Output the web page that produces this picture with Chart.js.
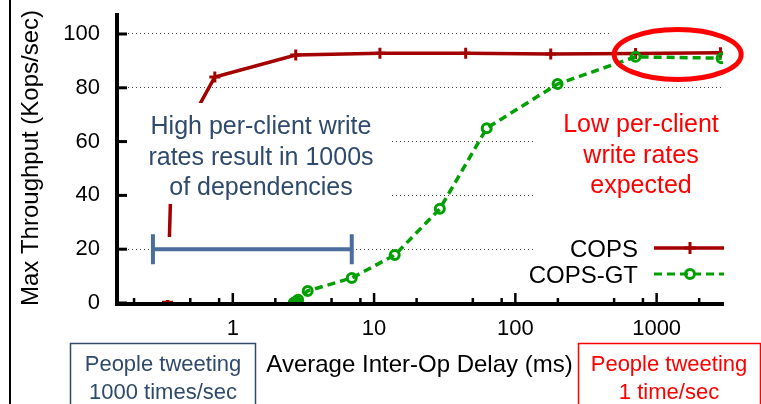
<!DOCTYPE html>
<html><head><meta charset="utf-8">
<script src="https://cdn.jsdelivr.net/npm/chart.js@4.4.1/dist/chart.umd.min.js"></script>
<style>html,body{margin:0;padding:0;background:#fff;overflow:hidden}canvas{display:block}</style>
</head><body>
<canvas id="c" width="761" height="404"></canvas>
<script>
// ---- data ----
const copsDelay = [0.345, 0.37, 0.746, 2.79, 11.0, 44.5, 178, 710, 2830];
const copsThroughput = [0.3, 55, 84, 92.2, 92.8, 92.8, 92.6, 92.7, 93.0];
const gtDelay = [2.7, 2.8, 2.9, 3.39, 6.95, 14.0, 29.2, 62.7, 199, 710, 2884];
const gtThroughput = [0.1, 0.6, 1.2, 4.5, 9.3, 17.8, 35, 65, 81.4, 91.5, 91.0];
const xTickValues = [1, 10, 100, 1000];
const xTickLabels = ['1', '10', '100', '1000'];
const xMinorTicks = [0.2, 0.5, 0.8, 2, 5, 8, 20, 50, 80, 200, 500, 800, 2000];
const yTickValues = [0, 20, 40, 60, 80, 100];
const yTickLabels = ['0', '20', '40', '60', '80', '100'];
const errorBarRange = [0.272, 6.95];
const errorBarLevel = 20;
const highlightCenter = [1409, 92.4];

const FONT = '"Liberation Sans", Arial, Helvetica, sans-serif';
const RED = '#a30000', GREEN = '#00a000', SLATE = '#2f4a6d', STEEL = '#4a6d9c', BRIGHT = '#ff0000';
Chart.defaults.font.family = FONT;

function lines(ctx, arr, x, y0, dy, color, size, align) {
  ctx.fillStyle = color; ctx.font = size + 'px ' + FONT;
  ctx.textAlign = align || 'center'; ctx.textBaseline = 'alphabetic';
  arr.forEach((t, i) => ctx.fillText(t, x, y0 + i * dy));
}
function cross(ctx, x, y, r, color, w) {
  ctx.strokeStyle = color; ctx.lineWidth = w;
  ctx.beginPath(); ctx.moveTo(x - r, y); ctx.lineTo(x + r, y); ctx.moveTo(x, y - r); ctx.lineTo(x, y + r); ctx.stroke();
}

const overlay = {
  id: 'overlay',
  beforeDatasetsDraw(chart) {
    const {ctx, scales: {x, y}} = chart;
    const cx = x.getPixelForValue(highlightCenter[0]), cy = y.getPixelForValue(highlightCenter[1]);
    ctx.save();
    ctx.fillStyle = '#fff';
    ctx.beginPath(); ctx.ellipse(cx, cy, 63.5, 25, 0, 0, Math.PI * 2); ctx.fill();
    ctx.fillRect(cx - 66, y.getPixelForValue(100) - 4, 120, 8);
    ctx.restore();
  },
  afterDatasetDraw(chart, args) {
    if (args.index !== 0) return;
    const {ctx, chartArea: a, scales: {x, y}} = chart;
    ctx.save();
    ctx.fillStyle = '#fff';
    ctx.fillRect(a.left + 2, 103, 390 - a.left - 2, 101);
    ctx.fillRect(150, 237, 140, 63);
    ctx.fillRect(533, 108, a.right - 533 + 2, 177);
    lines(ctx, ['High per-client write', 'rates result in 1000s', 'of dependencies'], 261, 134, 30.5, SLATE, 25);
    lines(ctx, ['Low per-client', 'write rates', 'expected'], 641, 132, 30.5, BRIGHT, 25);
    // error bar
    const x1 = x.getPixelForValue(errorBarRange[0]), x2 = x.getPixelForValue(errorBarRange[1]);
    const yy = y.getPixelForValue(errorBarLevel);
    ctx.strokeStyle = STEEL; ctx.lineWidth = 4; ctx.lineCap = 'butt';
    ctx.beginPath();
    ctx.moveTo(x1, yy); ctx.lineTo(x2, yy);
    ctx.moveTo(x1, yy - 15); ctx.lineTo(x1, yy + 15);
    ctx.moveTo(x2, yy - 15); ctx.lineTo(x2, yy + 15);
    ctx.stroke();
    ctx.restore();
  },
  afterDraw(chart) {
    const {ctx, chartArea: a, scales: {x, y}} = chart;
    ctx.save();
    // axes
    ctx.strokeStyle = '#000'; ctx.lineWidth = 4;
    ctx.beginPath(); ctx.moveTo(a.left + 1, a.top); ctx.lineTo(a.left + 1, a.bottom + 3);
    ctx.moveTo(a.left - 1, a.bottom + 1); ctx.lineTo(a.right + 1, a.bottom + 1); ctx.stroke();
    // y ticks
    ctx.lineWidth = 3;
    yTickValues.forEach(v => { const p = y.getPixelForValue(v); ctx.beginPath(); ctx.moveTo(a.left, p); ctx.lineTo(a.left + 11, p); ctx.stroke(); });
    // x ticks
    ctx.lineWidth = 2.5;
    xTickValues.forEach(v => { const p = x.getPixelForValue(v); ctx.beginPath(); ctx.moveTo(p, a.bottom); ctx.lineTo(p, a.bottom - 10); ctx.stroke(); });
    xMinorTicks.forEach(v => { const p = x.getPixelForValue(v); ctx.beginPath(); ctx.moveTo(p, a.bottom); ctx.lineTo(p, a.bottom - 5); ctx.stroke(); });
    // highlight ellipse
    const cx = x.getPixelForValue(highlightCenter[0]), cy = y.getPixelForValue(highlightCenter[1]);
    ctx.strokeStyle = BRIGHT; ctx.lineWidth = 5;
    ctx.beginPath(); ctx.ellipse(cx, cy, 63.5, 25, 0, 0, Math.PI * 2); ctx.stroke();
    // legend
    lines(ctx, ['COPS', 'COPS-GT'], 638, 257, 25.5, '#000', 24, 'right');
    ctx.lineWidth = 3.5; ctx.strokeStyle = RED;
    ctx.beginPath(); ctx.moveTo(654, 248); ctx.lineTo(724, 248); ctx.stroke();
    cross(ctx, 690, 248, 6, RED, 3);
    ctx.strokeStyle = GREEN; ctx.setLineDash([8, 5]);
    ctx.beginPath(); ctx.moveTo(654, 274); ctx.lineTo(724, 274); ctx.stroke();
    ctx.setLineDash([]); ctx.lineWidth = 3;
    ctx.beginPath(); ctx.arc(690, 274, 4.5, 0, Math.PI * 2); ctx.stroke();
    // bottom boxes
    ctx.lineWidth = 1.5;
    ctx.strokeStyle = SLATE; ctx.strokeRect(70.5, 343.5, 185, 70);
    lines(ctx, ['People tweeting', '1000 times/sec'], 163, 371, 28, SLATE, 22);
    ctx.strokeStyle = BRIGHT; ctx.strokeRect(578.5, 343.5, 182, 70);
    lines(ctx, ['People tweeting', '1 time/sec'], 669, 371, 28, BRIGHT, 22);
    // left border
    ctx.strokeStyle = '#000'; ctx.lineWidth = 2;
    ctx.beginPath(); ctx.moveTo(10, 0); ctx.lineTo(10, 404); ctx.stroke();
    ctx.restore();
  }
};

new Chart(document.getElementById('c'), {
  type: 'line',
  data: {
    datasets: [
      { label: 'COPS', data: copsDelay.map((d, i) => ({x: d, y: copsThroughput[i]})),
        borderColor: RED, borderWidth: 3.5, pointStyle: 'cross', pointRadius: 5.5, pointBorderWidth: 3,
        pointBorderColor: RED, pointBackgroundColor: RED, tension: 0, order: 2 },
      { label: 'COPS-GT', data: gtDelay.map((d, i) => ({x: d, y: gtThroughput[i]})),
        borderColor: GREEN, borderWidth: 3.5, borderDash: [8, 5], pointStyle: 'circle', pointRadius: 4.5,
        pointBorderWidth: 3, pointBorderColor: GREEN, pointBackgroundColor: 'rgba(0,0,0,0)', tension: 0, order: 1 }
    ]
  },
  options: {
    responsive: false, animation: false, devicePixelRatio: 1,
    layout: {padding: {left: 0, right: 38, top: 13, bottom: 0}},
    plugins: {legend: {display: false}, tooltip: {enabled: false}},
    scales: {
      x: {
        type: 'logarithmic', min: 0.149, max: 2950,
        afterBuildTicks: s => { s.ticks = xTickValues.map(v => ({value: v})); },
        ticks: {callback: (v, i) => xTickLabels[i], font: {size: 22}, color: '#000', padding: 13, autoSkip: false, maxRotation: 0},
        grid: {display: false, drawTicks: false},
        border: {display: false},
        title: {display: true, text: 'Average Inter-Op Delay (ms)', font: {size: 24}, color: '#000', padding: {top: 0, bottom: 24.6}},
        afterFit: s => { s.height = 101; }
      },
      y: {
        type: 'linear', min: 0, max: 107.8,
        afterBuildTicks: s => { s.ticks = yTickValues.map(v => ({value: v})); },
        ticks: {callback: (v, i) => yTickLabels[i], font: {size: 22, lineHeight: 1}, color: '#000', padding: 0, autoSkip: false},
        grid: {drawTicks: true, tickLength: 16, tickColor: 'rgba(0,0,0,0)', lineWidth: 1,
               color: c => (c.tick && c.tick.value === 0) ? 'rgba(0,0,0,0)' : '#444'},
        border: {display: false, dash: [1, 3]},
        title: {display: true, text: 'Max Throughput (Kops/sec)', font: {size: 24}, color: '#000', padding: {top: 16.6, bottom: 0}},
        afterFit: s => { s.width = 116; }
      }
    }
  },
  plugins: [overlay]
});
</script>
</body></html>
